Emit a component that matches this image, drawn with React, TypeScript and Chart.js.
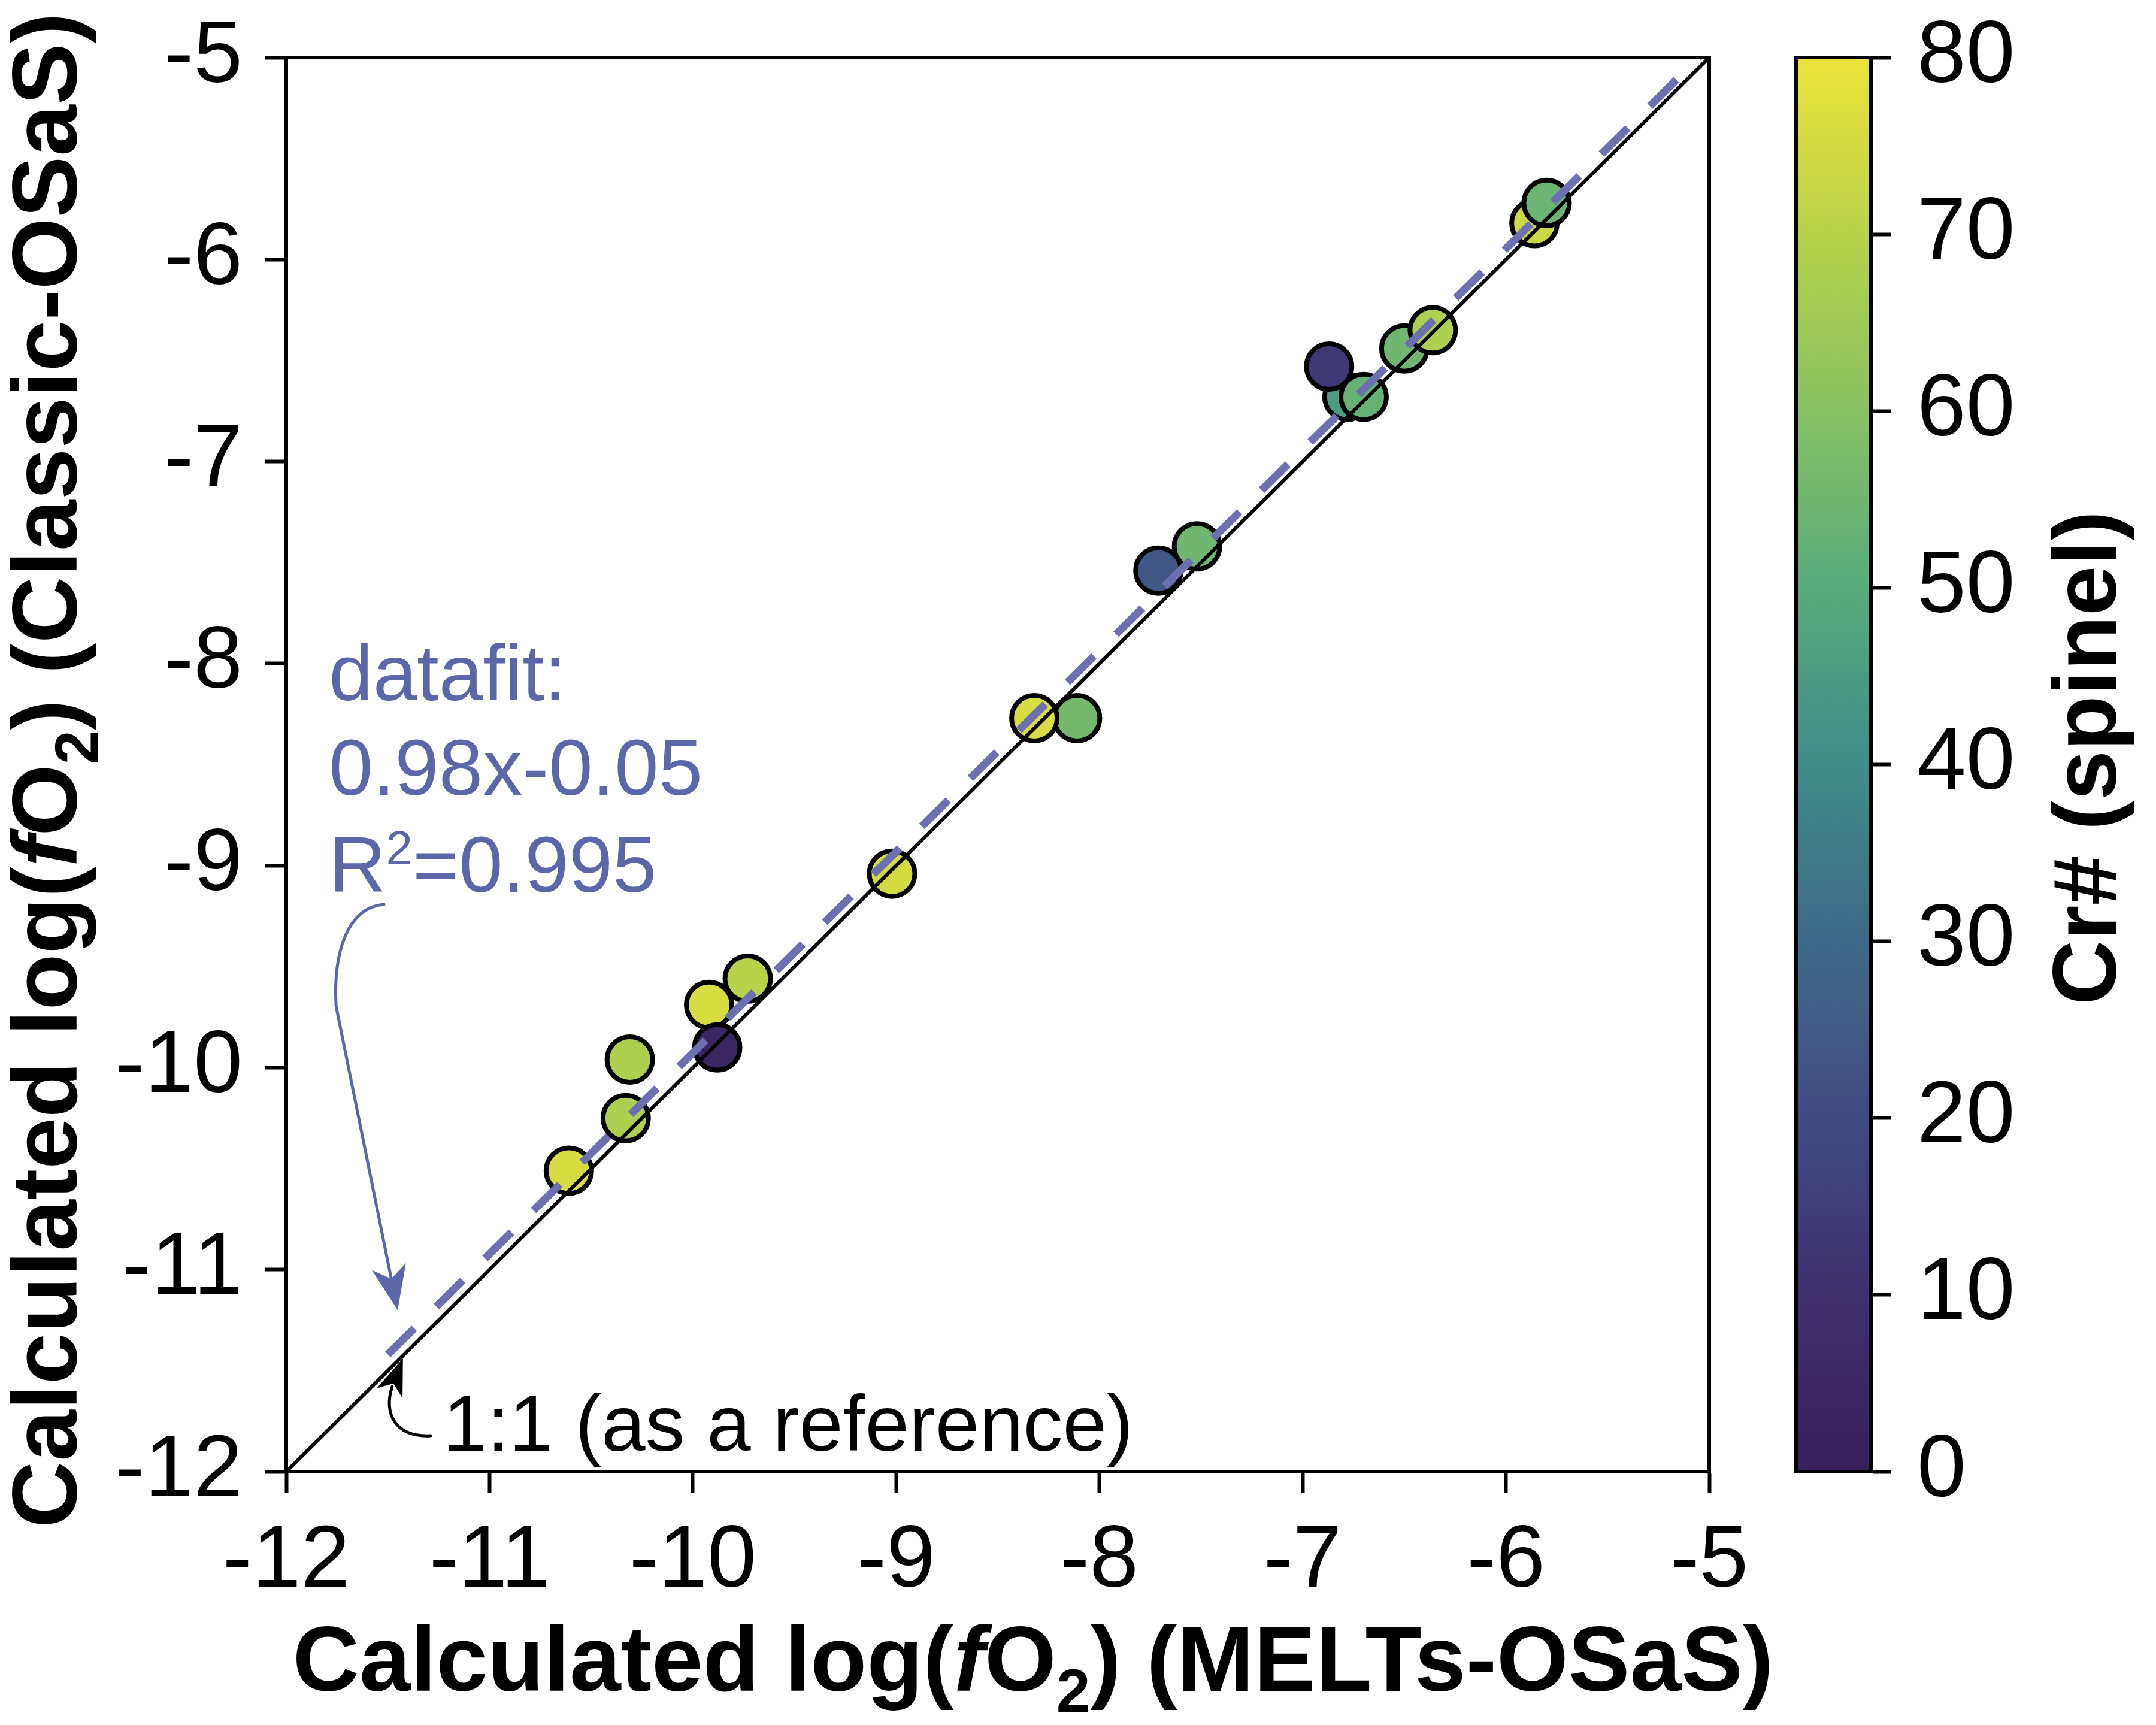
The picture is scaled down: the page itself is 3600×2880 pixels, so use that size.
import React, { useEffect, useRef } from 'react';
import { Chart, registerables } from 'chart.js';

Chart.register(...registerables);

// ---------------- data ----------------
const meltsLogFO2 = [-10.61, -10.33, -10.31, -9.92, -9.73, -9.88, -9.02, -8.11, -8.32, -7.71, -7.52, -6.78, -6.70, -6.87, -6.50, -6.36, -5.86, -5.80];
const classicLogFO2 = [-10.51, -10.25, -9.96, -9.69, -9.56, -9.90, -9.04, -8.27, -8.27, -7.54, -7.42, -6.68, -6.68, -6.53, -6.44, -6.35, -5.82, -5.72];
const crNumberSpinel = [76, 68, 68, 76, 70, 4, 75, 56, 76, 24, 55, 45, 53, 14, 55, 68, 74, 54];

const refLineX = [-12, -5];
const refLineY = [-12, -5];
const fitLineX = [-11.5, -5.05];
const fitLineY = [-11.42, -5.0];

const axisMin = -12;
const axisMax = -5;
const crMin = 0;
const crMax = 80;
const crStops = [0, 10, 20, 30, 40, 50, 60, 70, 80];
const crStopColors = ['#37205b', '#3e2f6d', '#414a81', '#3f6988', '#3f8c88', '#57ab7d', '#88c163', '#b8d24a', '#ede43b'];

const fitLabelLines = ['datafit:', '0.98x-0.05'];
const r2Value = '=0.995';
const refLabel = '1:1 (as a reference)';
const cbTitle = 'Cr# (spinel)';

// annotation anchors in data units
const fitLabelX = -11.79;
const fitLabelY = [-8.18, -8.65, -9.13];
const blueArrow = [[-11.52, -9.192], [-11.699, -9.207], [-11.77, -9.429], [-11.755, -9.696], [-11.452, -11.2]];
const blackArrow = [[-11.29, -11.822], [-11.464, -11.831], [-11.523, -11.712], [-11.479, -11.579], [-11.426, -11.44]];
const refLabelPos = [-11.228, -11.896];

// ---------------- styles / layout ----------------
const FONT = '"Liberation Sans", Arial, Helvetica, sans-serif';
const BLUE = '#5b67a9';
const DASH_BLUE = '#6c6fb0';
const PLOT_TOP = 96;
const Y_AXIS_W = 478;
const X_AXIS_H = 423;
const GAP_W = 270;
const CB_AXIS_W = 476;
const CB_BAR_W = 125;
const TITLE_SIZE = 154;

function hexToRgb(h: string) {
  const n = parseInt(h.slice(1), 16);
  return [(n >> 16) & 255, (n >> 8) & 255, n & 255];
}
function crColor(v: number) {
  const t = Math.max(crMin, Math.min(crMax, v));
  let i = 0;
  while (i < crStops.length - 2 && t > crStops[i + 1]) i++;
  const f = (t - crStops[i]) / (crStops[i + 1] - crStops[i]);
  const a = hexToRgb(crStopColors[i]);
  const b = hexToRgb(crStopColors[i + 1]);
  const c = a.map((x, k) => Math.round(x + (b[k] - x) * f));
  return `rgb(${c[0]},${c[1]},${c[2]})`;
}

type Run = { t: string; font: string; dy?: number };
function drawRuns(ctx: CanvasRenderingContext2D, runs: Run[], x: number, y: number, align: 'left' | 'center') {
  let w = 0;
  for (const r of runs) { ctx.font = r.font; w += ctx.measureText(r.t).width; }
  let cx = align === 'center' ? x - w / 2 : x;
  ctx.textAlign = 'left';
  ctx.textBaseline = 'alphabetic';
  for (const r of runs) {
    ctx.font = r.font;
    ctx.fillText(r.t, cx, y + (r.dy || 0));
    cx += ctx.measureText(r.t).width;
  }
}

function arrowHead(ctx: CanvasRenderingContext2D, fx: number, fy: number, tx: number, ty: number, len: number, hw: number) {
  const dx = tx - fx, dy = ty - fy;
  const d = Math.hypot(dx, dy) || 1;
  const ux = dx / d, uy = dy / d;
  const nx = -uy, ny = ux;
  const bx = tx - ux * len, by = ty - uy * len;
  const mx = tx - ux * len * 0.72, my = ty - uy * len * 0.72;
  ctx.beginPath();
  ctx.moveTo(tx, ty);
  ctx.lineTo(bx + nx * hw, by + ny * hw);
  ctx.lineTo(mx, my);
  ctx.lineTo(bx - nx * hw, by - ny * hw);
  ctx.closePath();
  ctx.fill();
}

const overlayPlugin = {
  id: 'overlay',
  afterDraw(chart: any) {
    const ctx: CanvasRenderingContext2D = chart.ctx;
    const a = chart.chartArea;
    const xs = chart.scales.x, ys = chart.scales.y, cb = chart.scales.cb;
    const P = (p: number[]) => [xs.getPixelForValue(p[0]), ys.getPixelForValue(p[1])];
    ctx.save();

    // frame (top and right)
    ctx.strokeStyle = '#000';
    ctx.lineWidth = 6;
    ctx.lineCap = 'square';
    ctx.beginPath();
    ctx.moveTo(a.left, a.top);
    ctx.lineTo(a.right, a.top);
    ctx.lineTo(a.right, a.bottom);
    ctx.stroke();

    // colorbar
    const y0 = cb.getPixelForValue(crMin), y1 = cb.getPixelForValue(crMax);
    const grad = ctx.createLinearGradient(0, y0, 0, y1);
    crStops.forEach((v, i) => grad.addColorStop((v - crMin) / (crMax - crMin), crStopColors[i]));
    const bl = cb.left - CB_BAR_W;
    ctx.fillStyle = grad;
    ctx.fillRect(bl, y1, CB_BAR_W, y0 - y1);
    ctx.lineWidth = 6;
    ctx.lineCap = 'butt';
    ctx.strokeRect(bl, y1, CB_BAR_W, y0 - y1);

    // axis titles
    ctx.fillStyle = '#000';
    const B = `bold ${TITLE_SIZE}px ${FONT}`;
    const BI = `italic bold ${TITLE_SIZE}px ${FONT}`;
    const SUB = `bold ${Math.round(TITLE_SIZE * 0.66)}px ${FONT}`;
    drawRuns(ctx, [
      { t: 'Calculated log(', font: B },
      { t: 'f', font: BI },
      { t: 'O', font: B },
      { t: '2', font: SUB, dy: 35 },
      { t: ') (MELTs-OSaS)', font: B },
    ], 1725, 2823, 'center');

    ctx.save();
    ctx.translate(128, 1286);
    ctx.rotate(-Math.PI / 2);
    drawRuns(ctx, [
      { t: 'Calculated log(', font: B },
      { t: 'f', font: BI },
      { t: 'O', font: B },
      { t: '2', font: SUB, dy: 35 },
      { t: ') (Classic-OSaS)', font: B },
    ], 0, 0, 'center');
    ctx.restore();

    ctx.save();
    ctx.translate(3533, (y0 + y1) / 2 - 11);
    ctx.rotate(-Math.PI / 2);
    drawRuns(ctx, [{ t: cbTitle, font: `bold 150px ${FONT}` }], 0, 0, 'center');
    ctx.restore();

    // datafit annotation
    ctx.fillStyle = BLUE;
    const R = `132px ${FONT}`;
    const lx = xs.getPixelForValue(fitLabelX);
    drawRuns(ctx, [{ t: fitLabelLines[0], font: R }], lx, ys.getPixelForValue(fitLabelY[0]), 'left');
    drawRuns(ctx, [{ t: fitLabelLines[1], font: R }], lx, ys.getPixelForValue(fitLabelY[1]), 'left');
    drawRuns(ctx, [
      { t: 'R', font: R },
      { t: '2', font: `80px ${FONT}`, dy: -46 },
      { t: r2Value, font: R },
    ], lx, ys.getPixelForValue(fitLabelY[2]), 'left');

    // blue curved arrow
    const b = blueArrow.map(P);
    ctx.strokeStyle = BLUE;
    ctx.lineWidth = 5;
    ctx.lineCap = 'round';
    ctx.beginPath();
    ctx.moveTo(b[0][0], b[0][1]);
    ctx.bezierCurveTo(b[1][0], b[1][1], b[2][0], b[2][1], b[3][0], b[3][1]);
    const ux = b[4][0] - b[3][0], uy = b[4][1] - b[3][1];
    const ul = Math.hypot(ux, uy);
    ctx.lineTo(b[4][0] - (ux / ul) * 50, b[4][1] - (uy / ul) * 50);
    ctx.stroke();
    ctx.fillStyle = BLUE;
    arrowHead(ctx, b[3][0], b[3][1], b[4][0], b[4][1], 74, 29);

    // black curved arrow
    const k = blackArrow.map(P);
    ctx.strokeStyle = '#000';
    ctx.lineWidth = 5;
    ctx.beginPath();
    ctx.moveTo(k[0][0], k[0][1]);
    ctx.bezierCurveTo(k[1][0], k[1][1], k[2][0], k[2][1], k[3][0], k[3][1]);
    ctx.stroke();
    ctx.fillStyle = '#000';
    arrowHead(ctx, k[3][0], k[3][1], k[4][0], k[4][1], 62, 23);

    // 1:1 label
    const rp = P(refLabelPos);
    drawRuns(ctx, [{ t: refLabel, font: `132px ${FONT}` }], rp[0], rp[1], 'left');

    ctx.restore();
  },
};

const noPadV = (w: number) => (s: any) => { s.width = w; s.paddingTop = 0; s.paddingBottom = 0; };
const noPadH = (h: number) => (s: any) => { s.height = h; s.paddingLeft = 0; s.paddingRight = 0; };

export default function App() {
  const ref = useRef<HTMLCanvasElement>(null);

  useEffect(() => {
    const canvas = ref.current;
    if (!canvas) return;
    const points = meltsLogFO2.map((x, i) => ({ x, y: classicLogFO2[i] }));
    const colors = crNumberSpinel.map(crColor);
    const tickFont = { family: FONT, size: 147, weight: 'normal' as const };

    const chart = new Chart(canvas, {
      type: 'scatter',
      data: {
        datasets: [
          {
            label: 'fit',
            data: fitLineX.map((x, i) => ({ x, y: fitLineY[i] })),
            showLine: true,
            borderColor: DASH_BLUE,
            borderWidth: 13,
            borderDash: [62, 52],
            pointRadius: 0,
            order: 1,
          } as any,
          {
            label: '1:1',
            data: refLineX.map((x, i) => ({ x, y: refLineY[i] })),
            showLine: true,
            borderColor: '#000',
            borderWidth: 6,
            pointRadius: 0,
            order: 2,
          } as any,
          {
            label: 'samples',
            data: points,
            pointRadius: 38,
            pointHoverRadius: 38,
            pointBackgroundColor: colors,
            pointBorderColor: '#000',
            pointBorderWidth: 8,
            pointHoverBorderWidth: 8,
            backgroundColor: colors,
            borderColor: '#000',
            order: 3,
          } as any,
        ],
      },
      options: {
        responsive: false,
        animation: false,
        devicePixelRatio: 1,
        events: [],
        layout: { padding: { top: PLOT_TOP, left: 0, right: 0, bottom: 0 } },
        plugins: { legend: { display: false }, tooltip: { enabled: false } },
        scales: {
          x: {
            type: 'linear',
            position: 'bottom',
            min: axisMin,
            max: axisMax,
            ticks: { stepSize: 1, font: tickFont, color: '#000', padding: 27, maxRotation: 0, autoSkip: false, callback: (v: any) => String(v) },
            grid: { drawOnChartArea: false, drawTicks: true, tickLength: 36, tickWidth: 6, tickColor: '#000' },
            border: { display: true, width: 6, color: '#000' },
            afterFit: noPadH(X_AXIS_H),
          },
          y: {
            type: 'linear',
            position: 'left',
            min: axisMin,
            max: axisMax,
            ticks: { stepSize: 1, font: tickFont, color: '#000', padding: 37, autoSkip: false, callback: (v: any) => String(v) },
            grid: { drawOnChartArea: false, drawTicks: true, tickLength: 36, tickWidth: 6, tickColor: '#000' },
            border: { display: true, width: 6, color: '#000' },
            afterFit: noPadV(Y_AXIS_W),
          },
          gap: {
            type: 'linear',
            position: 'right',
            weight: 0,
            min: 0,
            max: 1,
            ticks: { display: false },
            grid: { display: false },
            border: { display: false },
            afterFit: noPadV(GAP_W),
          },
          cb: {
            type: 'linear',
            position: 'right',
            weight: 1,
            min: crMin,
            max: crMax,
            ticks: { stepSize: 10, font: tickFont, color: '#000', padding: 44, autoSkip: false, callback: (v: any) => String(v) },
            grid: { drawOnChartArea: false, drawTicks: true, tickLength: 33, tickWidth: 6, tickColor: '#000' },
            border: { display: true, width: 6, color: '#000' },
            afterFit: noPadV(CB_AXIS_W),
          },
        } as any,
      },
      plugins: [overlayPlugin],
    });
    return () => chart.destroy();
  }, []);

  return (
    <div style={{ position: 'absolute', left: 0, top: 0, width: 3600, height: 2880, background: '#fff' }}>
      <canvas ref={ref} width={3600} height={2880} style={{ display: 'block', width: 3600, height: 2880 }} />
    </div>
  );
}
